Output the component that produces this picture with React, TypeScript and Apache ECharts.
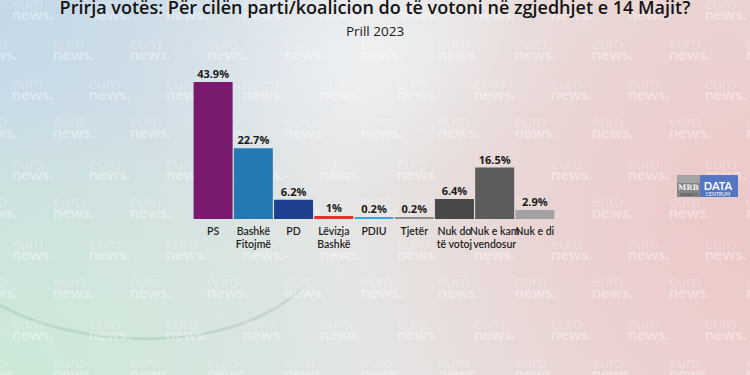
import React, { useEffect, useRef } from "react";
import * as echarts from "echarts";

const titleText = "Prirja votës: Për cilën parti/koalicion do të votoni në zgjedhjet e 14 Majit?";
const subtitleText = "Prill 2023";
const categories = [
  "PS",
  "Bashkë\nFitojmë",
  "PD",
  "Lëvizja\nBashkë",
  "PDIU",
  "Tjetër",
  "Nuk do\ntë votoj",
  "Nuk e kam\nvendosur",
  "Nuk e di",
];
const values = [43.9, 22.7, 6.2, 1, 0.2, 0.2, 6.4, 16.5, 2.9];
const barColors = [
  "#7a1a6f",
  "#2479b3",
  "#1f3f8f",
  "#e5302f",
  "#3aa9de",
  "#8c8c8c",
  "#484848",
  "#5c5c5c",
  "#a2a2a2",
];

const FONT = "Lato, 'Open Sans', sans-serif";
const HFONT = "'Open Sans', Lato, sans-serif";

function watermarks(): any[] {
  const els: any[] = [];
  const rowsA = [-3, 77, 157, 237, 317];
  const rowsB = [37, 115, 195, 275, 356];
  const colsA: number[] = [];
  const colsB: number[] = [];
  for (let k = 0; k < 10; k++) {
    colsA.push(12 + 77 * k);
    colsB.push(-24 + 77 * k);
  }
  colsB.push(-24 + 77 * 10);
  const add = (x: number, y: number) => {
    els.push({
      type: "text",
      x,
      y,
      z: 0,
      silent: true,
      style: {
        text: "{a|euro}\n{b|news.}",
        rich: {
          a: { fill: "rgba(255,255,255,0.38)", font: `300 16px ${FONT}`, lineHeight: 11 },
          b: { fill: "rgba(255,255,255,0.38)", font: `bold 16px ${FONT}`, lineHeight: 11 },
        },
      },
    });
  };
  rowsA.forEach((y) => colsA.forEach((x) => add(x, y)));
  rowsB.forEach((y) => colsB.forEach((x) => add(x, y)));
  return els;
}

export default function App() {
  const ref = useRef<HTMLDivElement>(null);
  useEffect(() => {
    if (!ref.current) return;
    const chart = echarts.init(ref.current, undefined, { renderer: "svg" });
    const option: any = {
      animation: false,
      backgroundColor: "transparent",
      title: [
        {
          text: titleText,
          left: "center",
          top: -7,
          textStyle: { fontFamily: HFONT, fontSize: 18, fontWeight: 600, color: "#141414" },
        },
        {
          text: subtitleText,
          left: "center",
          top: 19,
          textStyle: { fontFamily: HFONT, fontSize: 13.5, fontWeight: "normal", color: "#1a1a1a" },
        },
      ],
      grid: { left: 193, top: 63, width: 362, height: 156, containLabel: false },
      xAxis: {
        type: "category",
        data: categories,
        axisLine: { show: false },
        axisTick: { show: false },
        splitLine: { show: false },
        axisLabel: {
          interval: 0,
          margin: 5,
          fontFamily: FONT,
          fontSize: 10.5,
          fontWeight: 600,
          lineHeight: 13,
          color: "#1e1e1e",
        },
      },
      yAxis: { type: "value", min: 0, max: 50, show: false },
      series: [
        {
          type: "bar",
          z: 5,
          barWidth: 39,
          barMinHeight: 2,
          data: values.map((v, i) => ({
            value: v,
            itemStyle: { color: barColors[i] },
          })),
          label: {
            show: true,
            position: "top",
            distance: 3,
            formatter: "{c}%",
            fontFamily: HFONT,
            fontSize: 11,
            fontWeight: "bold",
            color: "#1a1a1a",
          },
        },
      ],
      graphic: [
        {
          type: "bezierCurve",
          z: 0,
          silent: true,
          shape: { x1: 0, y1: 305, cpx1: 80, cpy1: 350, cpx2: 230, cpy2: 355, x2: 300, y2: 290 },
          style: { stroke: "rgba(130,170,150,0.25)", lineWidth: 3, fill: null },
        },
        ...watermarks(),
        // logo
        { type: "rect", z: 10, shape: { x: 677, y: 175, width: 23, height: 8 }, style: { fill: "#a3a3a3" } },
        { type: "rect", z: 10, shape: { x: 677, y: 183, width: 23, height: 14 }, style: { fill: "#858585" } },
        {
          type: "text",
          z: 11,
          x: 688.5,
          y: 183.5,
          style: { text: "MRB", fill: "#f2f2f2", font: "bold 7.5px 'DejaVu Serif', serif", align: "center" },
        },
        {
          type: "text",
          z: 11,
          x: 688.5,
          y: 193,
          style: { text: "RESEARCH", fill: "#444", font: "3px sans-serif", align: "center" },
        },
        { type: "rect", z: 10, shape: { x: 700, y: 175, width: 38, height: 22 }, style: { fill: "#5576c2" } },
        {
          type: "text",
          z: 11,
          x: 718,
          y: 179.5,
          style: { text: "DATA", fill: "#ffffff", font: `bold 11px ${FONT}`, align: "center" },
        },
        {
          type: "text",
          z: 11,
          x: 718,
          y: 191,
          style: { text: "CENTRUM", fill: "#ffffff", font: `5px ${FONT}`, align: "center" },
        },
      ],
    };
    chart.setOption(option);
    return () => chart.dispose();
  }, []);
  const bg = [
    "radial-gradient(ellipse 55% 75% at 0% 100%, rgba(204,232,214,1) 0%, rgba(204,232,214,0) 100%)",
    "radial-gradient(ellipse 50% 80% at 0% 5%, rgba(196,216,232,1) 0%, rgba(196,216,232,0) 100%)",
    "radial-gradient(ellipse 50% 95% at 100% 60%, rgba(236,200,200,1) 0%, rgba(236,200,200,0) 100%)",
    "radial-gradient(ellipse 30% 35% at 45% 15%, rgba(240,242,244,0.9) 0%, rgba(240,242,244,0) 100%)",
    "linear-gradient(90deg, #d5e2e6 0%, #e5e5e4 45%, #ead9d6 100%)",
  ].join(", ");
  return (
    <div
      ref={ref}
      style={{ position: "fixed", left: 0, top: 0, width: 750, height: 375, background: bg }}
    />
  );
}
